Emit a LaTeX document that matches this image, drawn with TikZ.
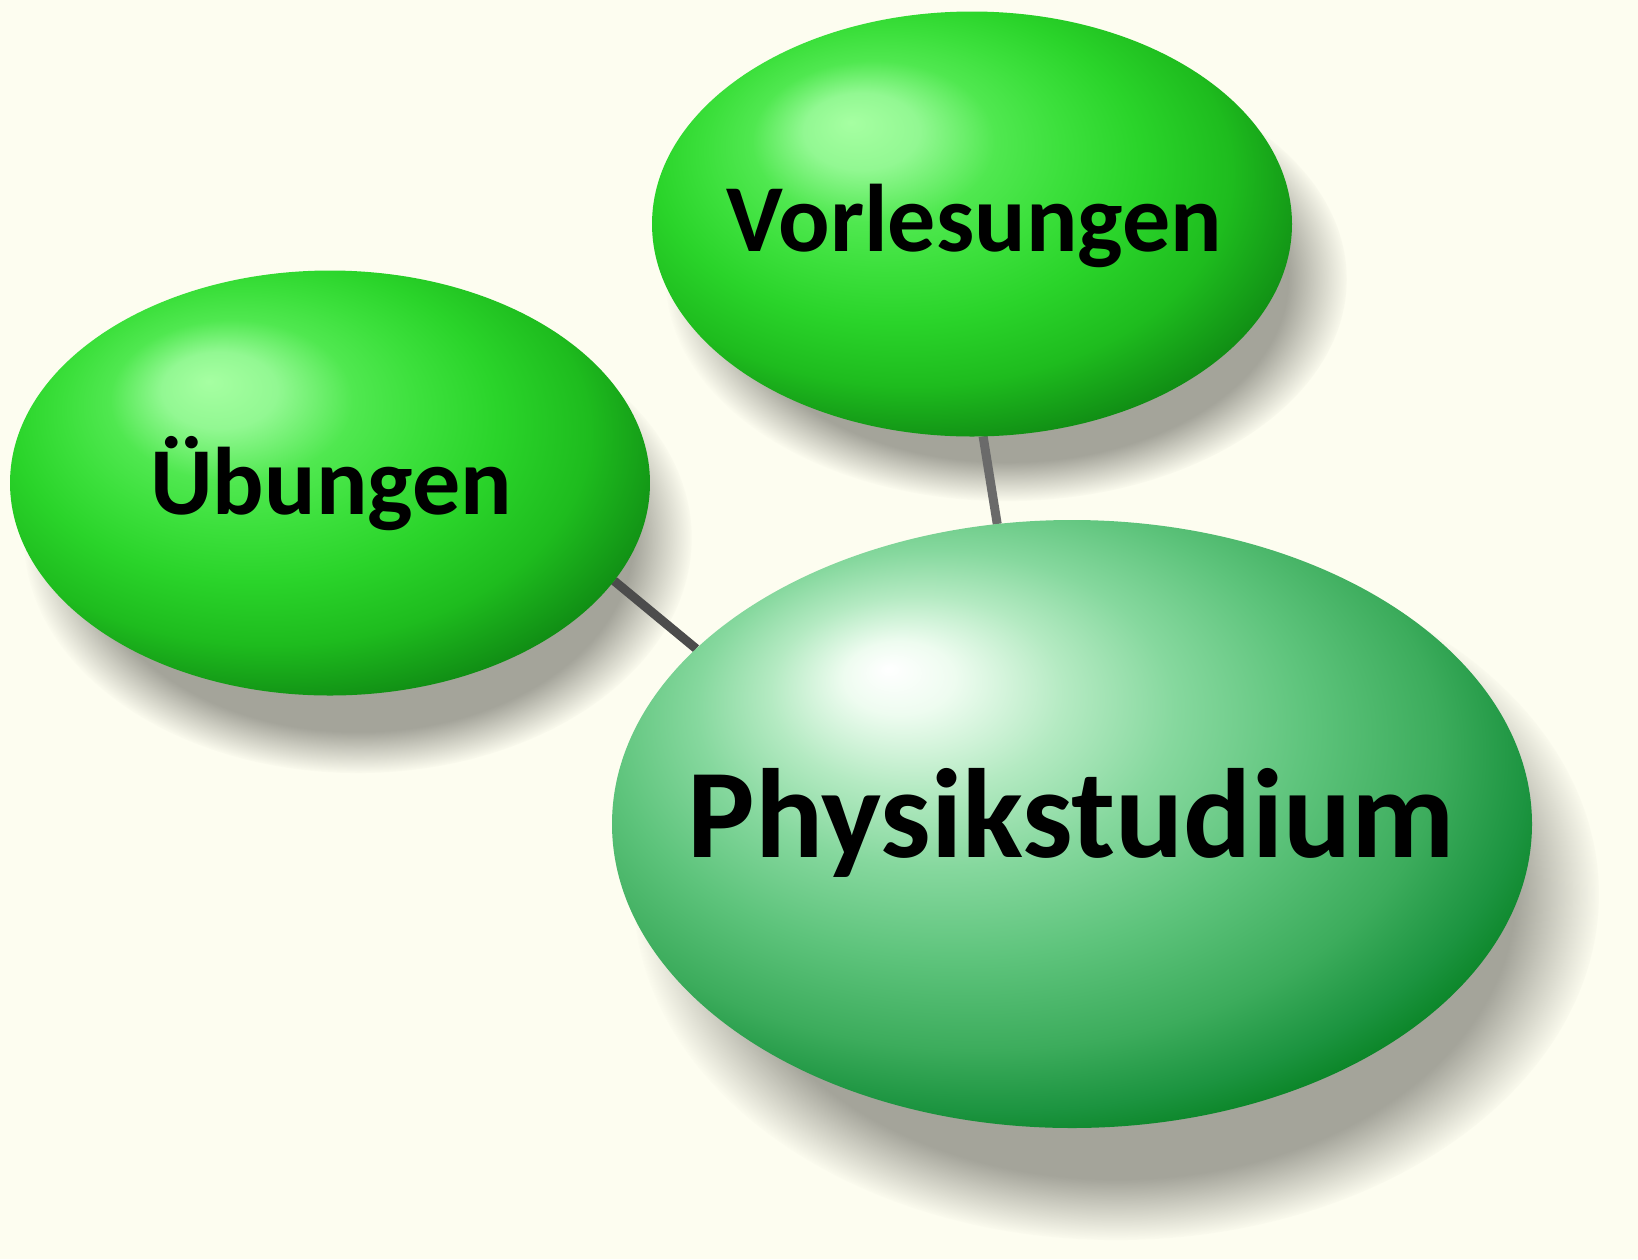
\documentclass[tikz,border=0pt]{standalone}
\usepackage{fontspec}
\setmainfont{Carlito}
\usetikzlibrary{shapes.geometric,fadings}
\definecolor{bgcol}{HTML}{FDFDF0}
\definecolor{shadowcol}{HTML}{A4A49A}
\definecolor{linedark}{HTML}{4C4C4C}
\definecolor{linegray}{HTML}{6A6A6A}
% small green balls
\definecolor{gA}{HTML}{A6FFA2}
\definecolor{gB}{HTML}{92F892}
\definecolor{gC}{HTML}{50E850}
\definecolor{gD}{HTML}{3CE03C}
\definecolor{gE}{HTML}{2AD42A}
\definecolor{gF}{HTML}{1EBC1E}
\definecolor{gG}{HTML}{108C14}
\definecolor{gH}{HTML}{0A7010}
% big ball
\definecolor{pA}{HTML}{FFFFFF}
\definecolor{pB}{HTML}{EEFCF0}
\definecolor{pC}{HTML}{B4EAC2}
\definecolor{pD}{HTML}{86D89E}
\definecolor{pE}{HTML}{5EC47C}
\definecolor{pF}{HTML}{3CAC5C}
\definecolor{pG}{HTML}{1C9440}
\definecolor{pH}{HTML}{05801F}
\definecolor{pI}{HTML}{006E18}
\pgfdeclareradialshading{greenball}{\pgfpoint{-9.5bp}{12bp}}{%
 color(0bp)=(gA); color(4.5bp)=(gB); color(9.5bp)=(gC); color(14bp)=(gD);
 color(19bp)=(gE); color(25bp)=(gF); color(31bp)=(gG); color(50bp)=(gH)}
\pgfdeclareradialshading{physball}{\pgfpoint{-10bp}{12.8bp}}{%
 color(0bp)=(pA); color(3bp)=(pB); color(8bp)=(pC); color(13bp)=(pD);
 color(19bp)=(pE); color(25bp)=(pF); color(29bp)=(pG); color(32bp)=(pH); color(50bp)=(pI)}
\pgfdeclareradialshading{shfadeshade}{\pgfpointorigin}{%
 color(0bp)=(white); color(20.5bp)=(white); color(22.5bp)=(black!45); color(25bp)=(black); color(50bp)=(black)}
\pgfdeclarefading{softshadow}{\pgfuseshading{shfadeshade}}
\pgfdeclarelayer{bg}
\pgfdeclarelayer{shadow}
\pgfdeclarelayer{lines}
\pgfsetlayers{bg,shadow,lines,main}
\tikzset{
  bubble/.style={ellipse, inner sep=0pt, outer sep=0pt},
  smallbubble/.style={bubble, shading=greenball, minimum width=640pt, minimum height=425pt},
  bigbubble/.style={bubble, shading=physball, minimum width=920pt, minimum height=608pt},
  smalltext/.style={anchor=base, inner sep=0pt, text=black, font=\bfseries\fontsize{96}{110}\selectfont},
  bigtext/.style={anchor=base, inner sep=0pt, text=black, font=\bfseries\fontsize{127}{140}\selectfont},
  shadowfill/.style={fill=shadowcol, path fading=softshadow},
  conn/.style={line width=9pt},
}
\begin{document}
\begin{tikzpicture}[x=1pt,y=-1pt]
\useasboundingbox (0,0) rectangle (1638,1259);
\begin{pgfonlayer}{bg}
  \fill[bgcol] (0,0) rectangle (1638,1259);
\end{pgfonlayer}
\begin{pgfonlayer}{shadow}
  \fill[shadowfill] (1117,894) ellipse [x radius=483, y radius=346];
  \fill[shadowfill] (1007,279) ellipse [x radius=341, y radius=222];
  \fill[shadowfill] (358,538) ellipse [x radius=334, y radius=235];
\end{pgfonlayer}
\node[smallbubble] (vor) at (972,224) {};
\node[smallbubble] (ueb) at (330,483) {};
\node[bigbubble] (phy) at (1072,824) {};
\node[smalltext] (vorT) at (974,251) {Vorlesungen};
\node[smalltext] (uebT) at (331,514) {Übungen};
\node[bigtext] (phyT) at (1071,857) {Physikstudium};
\begin{pgfonlayer}{lines}
  \draw[conn, linedark] (ueb.-19.5) -- (phy.155);
  \draw[conn, linegray] (vor.-87) -- (phy.104);
\end{pgfonlayer}
\end{tikzpicture}
\end{document}
